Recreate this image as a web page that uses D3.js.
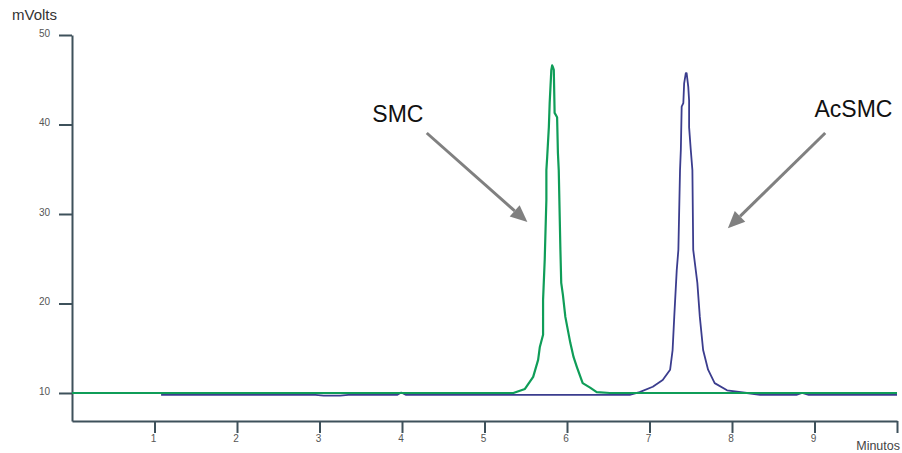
<!DOCTYPE html>
<html>
<head>
<meta charset="utf-8">
<script src="https://cdn.jsdelivr.net/npm/d3@7"></script>
<style>
  html, body { margin: 0; padding: 0; background: #fff; }
  svg { display: block; font-family: "Liberation Sans", Arial, sans-serif; }
</style>
</head>
<body>
<svg id="chart" width="902" height="453"></svg>
<script>
// Chromatogram traces (time in minutes, signal in mV)
const smcTime = [0, 5.07, 5.35, 5.49, 5.59, 5.65, 5.67, 5.71, 5.71, 5.73, 5.75, 5.75, 5.76, 5.78, 5.79, 5.81, 5.82, 5.83, 5.84, 5.85, 5.88, 5.89, 5.90, 5.92, 5.93, 5.95, 5.98, 6.04, 6.08, 6.12, 6.19, 6.28, 6.36, 6.52, 10];
const smcMv   = [10, 10, 10.0, 10.45, 11.8, 13.7, 15.1, 16.5, 20.4, 24.9, 31.6, 34.9, 36.4, 39.7, 42.4, 46.1, 46.6, 46.4, 46.1, 41.3, 40.8, 36.8, 34.9, 26.0, 22.3, 21.0, 18.5, 15.6, 14.0, 12.9, 11.1, 10.6, 10.1, 10.0, 10];

const acsmcTime = [1.08, 2.95, 3.05, 3.25, 3.35, 3.94, 3.99, 4.05, 6.76, 6.88, 7.04, 7.16, 7.25, 7.28, 7.30, 7.33, 7.35, 7.37, 7.38, 7.39, 7.41, 7.42, 7.44, 7.45, 7.47, 7.48, 7.48, 7.50, 7.52, 7.53, 7.58, 7.61, 7.65, 7.71, 7.79, 7.94, 8.18, 8.34, 8.78, 8.85, 8.93, 9.0, 10];
const acsmcMv   = [9.78, 9.78, 9.7, 9.7, 9.78, 9.78, 10.05, 9.78, 9.78, 10.1, 10.7, 11.45, 12.6, 14.8, 18.5, 23.7, 26.0, 34.9, 37.2, 42.0, 42.4, 44.6, 45.75, 45.75, 44.2, 42.7, 39.7, 37.2, 34.9, 26.0, 22.3, 18.5, 14.8, 12.6, 11.1, 10.3, 10.0, 9.78, 9.78, 10.0, 9.78, 9.78, 9.78];

// Axis ticks
const xTicks = [1, 2, 3, 4, 5, 6, 7, 8, 9, 10];
const xTickLabels = ["1", "2", "3", "4", "5", "6", "7", "8", "9", ""];
const yTicks = [10, 20, 30, 40, 50];

// Peak annotations: label position, arrow start and arrow tip (data units)
const peakLabels = ["SMC", "AcSMC"];
const labelPos = [[3.64, 40.28], [9.0, 40.84]];
const arrowFrom = [[4.30, 39.05], [9.13, 39.05]];
const arrowTo = [[5.52, 29.1], [7.95, 28.4]];

const svg = d3.select("#chart");

const x = d3.scaleLinear().domain([0, 10]).range([72, 897]);
const y = d3.scaleLinear().domain([6.87, 50]).range([421, 35]);

const axisColor = "#3e515b";

// Y axis
const yAxis = svg.append("g")
  .attr("transform", `translate(${x(0)},0)`)
  .call(d3.axisLeft(y).tickValues(yTicks).tickSize(13).tickSizeOuter(0).tickPadding(9));
yAxis.select(".domain").attr("stroke", axisColor).attr("stroke-width", 2);
yAxis.selectAll(".tick line").attr("stroke", axisColor).attr("stroke-width", 2);
yAxis.selectAll(".tick text").attr("fill", "#555").attr("font-size", 10).attr("dy", "0.15em")
  .attr("font-family", "Liberation Sans, Arial, sans-serif");

// X axis
const xAxis = svg.append("g")
  .attr("transform", `translate(0,${y(6.87)})`)
  .call(d3.axisBottom(x).tickValues(xTicks).tickSize(12).tickSizeOuter(0).tickPadding(2)
    .tickFormat((d, i) => xTickLabels[i]));
xAxis.select(".domain").attr("stroke", axisColor).attr("stroke-width", 2);
xAxis.selectAll(".tick line").attr("stroke", axisColor).attr("stroke-width", 2);
xAxis.selectAll(".tick text").attr("fill", "#555").attr("font-size", 10).attr("dx", "-0.15em")
  .attr("font-family", "Liberation Sans, Arial, sans-serif");

// Axis titles
svg.append("text").attr("x", 12).attr("y", 20).attr("font-size", 15).attr("fill", "#333").text("mVolts");
svg.append("text").attr("x", 900).attr("y", 450).attr("text-anchor", "end")
  .attr("font-size", 12.5).attr("fill", "#444").text("Minutos");

// Traces
const line = d3.line().x(d => x(d[0])).y(d => y(d[1]));
const acsmc = d3.zip(acsmcTime, acsmcMv);
const smc = d3.zip(smcTime, smcMv);

svg.append("path").datum(acsmc)
  .attr("d", line).attr("fill", "none")
  .attr("stroke", "#3b3d8e").attr("stroke-width", 1.8).attr("stroke-linejoin", "round");
svg.append("path").datum(smc)
  .attr("d", line).attr("fill", "none")
  .attr("stroke", "#0f9d58").attr("stroke-width", 2.2).attr("stroke-linejoin", "round");

// Annotations
const arrowColor = "#808080";
peakLabels.forEach((name, i) => {
  svg.append("text")
    .attr("x", x(labelPos[i][0])).attr("y", y(labelPos[i][1]))
    .attr("font-size", 23).attr("fill", "#111").text(name);

  const x0 = x(arrowFrom[i][0]), y0 = y(arrowFrom[i][1]);
  const x1 = x(arrowTo[i][0]), y1 = y(arrowTo[i][1]);
  const ang = Math.atan2(y1 - y0, x1 - x0);
  const headLen = 17, headHalf = 7.5;
  const bx = x1 - headLen * Math.cos(ang), by = y1 - headLen * Math.sin(ang);
  svg.append("line")
    .attr("x1", x0).attr("y1", y0).attr("x2", bx).attr("y2", by)
    .attr("stroke", arrowColor).attr("stroke-width", 3);
  const px = -Math.sin(ang) * headHalf, py = Math.cos(ang) * headHalf;
  svg.append("polygon")
    .attr("points", [[x1, y1], [bx + px, by + py], [bx - px, by - py]].map(p => p.join(",")).join(" "))
    .attr("fill", arrowColor);
});
</script>
</body>
</html>
